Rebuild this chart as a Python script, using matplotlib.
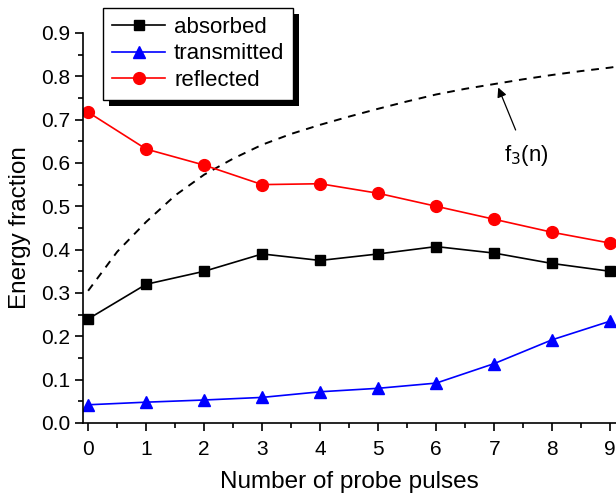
import matplotlib

matplotlib.use("Agg")
import matplotlib.pyplot as plt
from matplotlib.patches import Rectangle
from matplotlib.ticker import FormatStrFormatter, MultipleLocator

plt.rcParams["font.family"] = ["Liberation Sans", "DejaVu Sans"]

pulses = [0, 1, 2, 3, 4, 5, 6, 7, 8, 9]
absorbed = [0.240, 0.320, 0.350, 0.390, 0.375, 0.390, 0.407, 0.392, 0.368, 0.350]
transmitted = [0.042, 0.048, 0.053, 0.059, 0.072, 0.080, 0.092, 0.137, 0.192, 0.235]
reflected = [0.717, 0.632, 0.595, 0.550, 0.552, 0.530, 0.500, 0.470, 0.440, 0.415]

# dashed guide curve at half steps
f3_n = [0.0, 0.5, 1.0, 1.5, 2.0, 2.5, 3.0, 3.5, 4.0, 4.5, 5.0, 5.5, 6.0, 6.5, 7.0, 7.5, 8.0, 8.5, 9.0, 9.1]
f3_val = [0.305, 0.395, 0.464, 0.525, 0.573, 0.610, 0.642, 0.667, 0.688, 0.707,
          0.725, 0.742, 0.758, 0.771, 0.782, 0.793, 0.803, 0.812, 0.820, 0.822]

fig = plt.figure(figsize=(6.16, 4.95), dpi=100)
ax = fig.add_axes([0.135, 0.1455, 0.865, 0.788])

ax.plot(f3_n, f3_val, color="black", linestyle=(0, (4, 3.5)), linewidth=1.4)
ax.plot(pulses, absorbed, color="black", marker="s", markersize=7.5, linewidth=1.2, label="absorbed")
ax.plot(pulses, transmitted, color="blue", marker="^", markersize=9, linewidth=1.2, label="transmitted")
ax.plot(pulses, reflected, color="red", marker="o", markersize=8.5, linewidth=1.2, label="reflected")

ax.annotate(
    "f$_3$(n)",
    xy=(7.07, 0.774),
    xytext=(7.55, 0.617),
    ha="center",
    va="center",
    fontsize=16,
    arrowprops=dict(arrowstyle="-|>", color="black", lw=0.9, mutation_scale=14, shrinkA=8, shrinkB=0),
)

ax.set_xlim(-0.086, 9.1)
ax.set_ylim(0.0, 0.9)
ax.xaxis.set_major_locator(MultipleLocator(1))
ax.xaxis.set_minor_locator(MultipleLocator(0.5))
ax.yaxis.set_major_locator(MultipleLocator(0.1))
ax.yaxis.set_minor_locator(MultipleLocator(0.05))
ax.yaxis.set_major_formatter(FormatStrFormatter("%.1f"))
ax.spines["top"].set_visible(False)
ax.spines["right"].set_visible(False)
for side in ("left", "bottom"):
    ax.spines[side].set_linewidth(1.2)
ax.tick_params(which="major", direction="out", length=6, width=1.2, labelsize=15)
ax.tick_params(axis="x", which="major", pad=6)
ax.tick_params(which="minor", direction="out", length=3.5, width=1.2)
ax.set_xlabel("Number of probe pulses", fontsize=17.5, labelpad=9)
ax.set_ylabel("Energy fraction", fontsize=17.5, labelpad=7)

leg = ax.legend(
    loc="upper left",
    bbox_to_anchor=(103 / 616, 1 - 8 / 495),
    bbox_transform=fig.transFigure,
    fontsize=16,
    frameon=True,
    fancybox=False,
    edgecolor="black",
    framealpha=1,
    handlelength=2.4,
    handletextpad=0.4,
    borderpad=0.4,
    labelspacing=0.25,
    borderaxespad=0,
)
leg.get_frame().set_linewidth(1.0)
leg.set_zorder(5)

fig.canvas.draw()
bb = leg.get_window_extent()
shadow = Rectangle((bb.x0 + 6, bb.y0 - 6), bb.width, bb.height, transform=None,
                   facecolor="black", edgecolor="none", zorder=4, clip_on=False)
ax.add_artist(shadow)

fig.savefig("out.png", dpi=100)
